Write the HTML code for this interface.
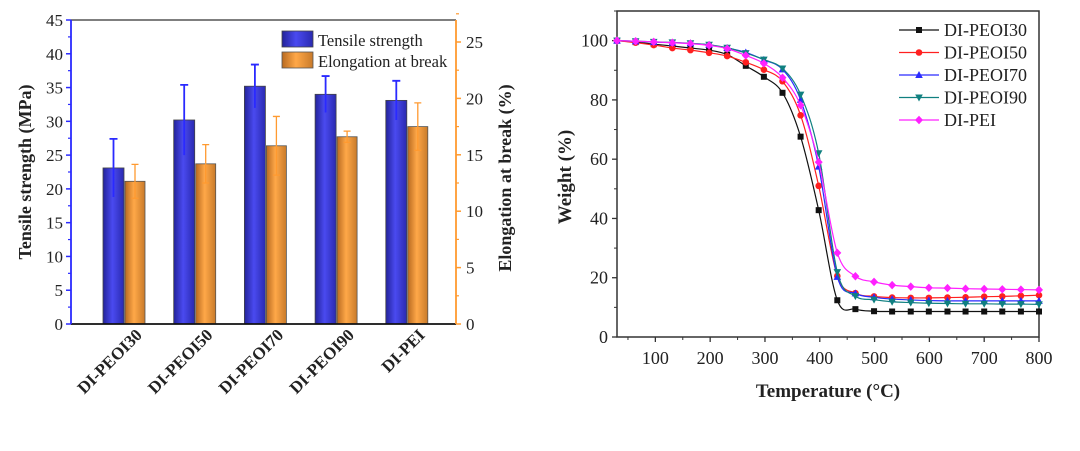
<!DOCTYPE html>
<html><head><meta charset="utf-8"><style>
body{margin:0;background:#fff;}
svg text{font-family:"Liberation Serif",serif;fill:#222;}
</style></head><body>
<svg id="s" width="1080" height="446" xmlns="http://www.w3.org/2000/svg">
<defs>
<linearGradient id="gb" x1="0" x2="1"><stop offset="0" stop-color="#23239a"/><stop offset="0.45" stop-color="#4a4af0"/><stop offset="1" stop-color="#2a2ab0"/></linearGradient>
<linearGradient id="go" x1="0" x2="1"><stop offset="0" stop-color="#b86a20"/><stop offset="0.45" stop-color="#ffa848"/><stop offset="1" stop-color="#c87a2a"/></linearGradient>
</defs>
<g id="left"></g>
<g id="right"></g>
</svg>
<script>
const categories=["DI-PEOI30","DI-PEOI50","DI-PEOI70","DI-PEOI90","DI-PEI"];
const tensile=[23.1,30.2,35.2,34.0,33.1];
const tensileErr=[4.3,5.2,3.2,2.7,2.9];
const elong=[12.65,14.2,15.8,16.6,17.5];
const elongErr=[1.5,1.7,2.6,0.5,2.1];
const leftTicks=[0,5,10,15,20,25,30,35,40,45];
const rightTicks=[0,5,10,15,20,25];

const temps=[30,64,97,131,164,198,231,265,298,332,365,398,432,465,499,532,566,599,633,666,700,733,767,800];
const w30=[100,99.5,98.8,98.2,97.5,96.8,95.3,91.5,87.8,82.4,67.6,42.8,12.4,9.4,8.7,8.6,8.6,8.6,8.6,8.6,8.6,8.6,8.6,8.6];
const w50=[100,99.3,98.5,97.5,96.8,95.9,94.8,92.7,90.2,86.3,74.8,51,20.6,14.8,13.7,13.3,13.2,13.2,13.3,13.4,13.6,13.7,13.9,14.1];
const w70=[100,99.8,99.5,99.3,99.1,98.6,97.5,96,93.5,90.3,80,57.5,20.3,14.7,13.4,12.8,12.5,12.3,12.2,12.2,12.2,12.2,12.2,12.2];
const w90=[100,99.8,99.6,99.4,99.1,98.6,97.6,95.8,93.6,90.6,81.8,62,21.9,13.8,12.6,11.9,11.6,11.4,11.3,11.2,11.2,11.1,11.1,11.0];
const wPEI=[100,99.8,99.6,99.3,99,98.4,97.3,95,92.3,87.5,78.2,59,28.4,20.5,18.6,17.5,17,16.6,16.5,16.3,16.2,16.1,16.0,15.9];
const xTicks=[100,200,300,400,500,600,700,800];
const yTicks=[0,20,40,60,80,100];

const NS="http://www.w3.org/2000/svg";
function mk(p,t,a,txt){const e=document.createElementNS(NS,t);for(const k in a)e.setAttribute(k,a[k]);if(txt!=null)e.textContent=txt;p.appendChild(e);return e;}

// LEFT
const L=document.getElementById('left');
const lx0=71,lx1=456,ly0=324,ly1=20;
const yL=v=>ly0-(ly0-ly1)*v/45;
const yR=v=>ly0-v*11.28;
const gx=i=>125+i*70.7;
let e;
e=mk(L,'line',{x1:lx0,y1:ly1,x2:lx1,y2:ly1,stroke:'#555','stroke-width':1.5});

categories.forEach((c,i)=>{
  const xc=gx(i);
  e=mk(L,'rect',{x:xc-22,y:yL(tensile[i]),width:21,height:ly0-yL(tensile[i]),fill:'url(#gb)',stroke:'#444','stroke-width':0.8});
  
  e=mk(L,'rect',{x:xc,y:yR(elong[i]),width:20,height:ly0-yR(elong[i]),fill:'url(#go)',stroke:'#555','stroke-width':0.8});
  
  const bx=xc-11.5;
  e=mk(L,'path',{d:`M${bx},${yL(tensile[i]-tensileErr[i])}V${yL(tensile[i]+tensileErr[i])}M${bx-4},${yL(tensile[i]+tensileErr[i])}h8`,stroke:'#2a2aff','stroke-width':1.8,fill:'none'});
  
  const ox=xc+10;
  e=mk(L,'path',{d:`M${ox},${yR(elong[i]-elongErr[i])}V${yR(elong[i]+elongErr[i])}M${ox-3.5},${yR(elong[i]+elongErr[i])}h7M${ox-3.5},${yR(elong[i]-elongErr[i])}h7`,stroke:'#ff9a30','stroke-width':1.3,fill:'none'});
  
  e=mk(L,'text',{x:0,y:0,transform:`translate(${xc+18},${ly0+12}) rotate(-45)`,'text-anchor':'end','font-size':17,'font-weight':'bold'},c);
  
});
e=mk(L,'line',{x1:lx0,y1:ly0,x2:lx1,y2:ly0,stroke:'#111','stroke-width':1.8});

e=mk(L,'line',{x1:lx0,y1:ly0,x2:lx0,y2:ly1,stroke:'#2a2aff','stroke-width':1.8});

e=mk(L,'line',{x1:lx1,y1:ly0,x2:lx1,y2:ly1,stroke:'#ff9a30','stroke-width':1.8});

leftTicks.forEach(t=>{
  e=mk(L,'line',{x1:lx0-5,y1:yL(t),x2:lx0,y2:yL(t),stroke:'#2a2aff','stroke-width':1.5});
  
  if(t<45){e=mk(L,'line',{x1:lx0-3,y1:yL(t+2.5),x2:lx0,y2:yL(t+2.5),stroke:'#2a2aff','stroke-width':1.2});
  }
  e=mk(L,'text',{x:lx0-8,y:yL(t)+6,'text-anchor':'end','font-size':17},t);
  
});
rightTicks.forEach(t=>{
  e=mk(L,'line',{x1:lx1,y1:yR(t),x2:lx1+5,y2:yR(t),stroke:'#ff9a30','stroke-width':1.5});
  
  e=mk(L,'line',{x1:lx1,y1:yR(t+2.5),x2:lx1+3,y2:yR(t+2.5),stroke:'#ff9a30','stroke-width':1.2});
  
  e=mk(L,'text',{x:lx1+10,y:yR(t)+6,'text-anchor':'start','font-size':17},t);
  
});
e=mk(L,'text',{x:0,y:0,transform:'translate(31,172) rotate(-90)','text-anchor':'middle','font-size':18,'font-weight':'bold'},'Tensile strength (MPa)');

e=mk(L,'text',{x:0,y:0,transform:'translate(511,178) rotate(-90)','text-anchor':'middle','font-size':18,'font-weight':'bold'},'Elongation at break (%)');

e=mk(L,'rect',{x:282,y:31,width:31,height:16,fill:'url(#gb)',stroke:'#444','stroke-width':0.8});

e=mk(L,'text',{x:318,y:46,'font-size':16.5},'Tensile strength');

e=mk(L,'rect',{x:282,y:52,width:31,height:16,fill:'url(#go)',stroke:'#555','stroke-width':0.8});

e=mk(L,'text',{x:318,y:67,'font-size':16.5},'Elongation at break');


// RIGHT
const R=document.getElementById('right');
const rx0=617,rx1=1039,ry0=337,ry1=11;
const X=v=>rx0+(v-30)*(rx1-rx0)/770;
const Y=v=>ry0-(ry0-ry1)*v/110;
e=mk(R,'rect',{x:rx0,y:ry1,width:rx1-rx0,height:ry0-ry1,fill:'none',stroke:'#333','stroke-width':1.5});

xTicks.forEach(t=>{
  e=mk(R,'line',{x1:X(t),y1:ry0,x2:X(t),y2:ry0+5,stroke:'#333','stroke-width':1.3});
  
  e=mk(R,'line',{x1:X(t-50),y1:ry0,x2:X(t-50),y2:ry0+3,stroke:'#333','stroke-width':1});
  
  e=mk(R,'text',{x:X(t),y:ry0+27,'text-anchor':'middle','font-size':18},t);
  
});
yTicks.forEach(t=>{
  e=mk(R,'line',{x1:rx0-5,y1:Y(t),x2:rx0,y2:Y(t),stroke:'#333','stroke-width':1.3});
  
  e=mk(R,'line',{x1:rx0-3,y1:Y(t+10),x2:rx0,y2:Y(t+10),stroke:'#333','stroke-width':1});
  
  e=mk(R,'text',{x:rx0-9,y:Y(t)+6,'text-anchor':'end','font-size':18},t);
  
});
e=mk(R,'text',{x:828,y:397,'text-anchor':'middle','font-size':19,'font-weight':'bold'},'Temperature (°C)');

e=mk(R,'text',{x:0,y:0,transform:'translate(571,177) rotate(-90)','text-anchor':'middle','font-size':19,'font-weight':'bold'},'Weight (%)');


const series=[["DI-PEOI30",w30,"#111","square"],["DI-PEOI50",w50,"#ff2020","circle"],["DI-PEOI70",w70,"#2a2aff","up"],["DI-PEOI90",w90,"#108080","down"],["DI-PEI",wPEI,"#ff20ff","diamond"]];
function marker(g,x,y,shape,col){
  let el;
  if(shape==='square')el=mk(g,'rect',{x:x-3,y:y-3,width:6,height:6,fill:col});
  else if(shape==='circle')el=mk(g,'circle',{cx:x,cy:y,r:3.3,fill:col});
  else if(shape==='up')el=mk(g,'path',{d:`M${x},${y-4}L${x+3.8},${y+3}L${x-3.8},${y+3}Z`,fill:col});
  else if(shape==='down')el=mk(g,'path',{d:`M${x},${y+4}L${x+3.8},${y-3}L${x-3.8},${y-3}Z`,fill:col});
  else el=mk(g,'path',{d:`M${x},${y-4.2}L${x+4},${y}L${x},${y+4.2}L${x-4},${y}Z`,fill:col});
  return el;
}
series.forEach((s,k)=>{
  const g=mk(R,'g',{});
  
  
  const pts=temps.map((t,i)=>[X(t),Y(s[1][i])]);
  let d='M'+pts[0][0]+','+pts[0][1];
  for(let i=0;i<pts.length-1;i++){
    const p0=pts[Math.max(0,i-1)],p1=pts[i],p2=pts[i+1],p3=pts[Math.min(pts.length-1,i+2)];
    const c1x=p1[0]+(p2[0]-p0[0])/6,c1y=p1[1]+(p2[1]-p0[1])/6,c2x=p2[0]-(p3[0]-p1[0])/6,c2y=p2[1]-(p3[1]-p1[1])/6;
    d+=`C${c1x},${c1y} ${c2x},${c2y} ${p2[0]},${p2[1]}`;
  }
  e=mk(g,'path',{d:d,fill:'none',stroke:s[2],'stroke-width':1.2});
  
  pts.forEach(p=>{e=marker(g,p[0],p[1],s[3],s[2]);
    });
  const ly=30+k*22.5;
  e=mk(R,'line',{x1:899,y1:ly,x2:939,y2:ly,stroke:s[2],'stroke-width':1.2});
  
  e=marker(R,919,ly,s[3],s[2]);
  
  e=mk(R,'text',{x:944,y:ly+6,'font-size':18},s[0]);
  
});
</script>
</body></html>
